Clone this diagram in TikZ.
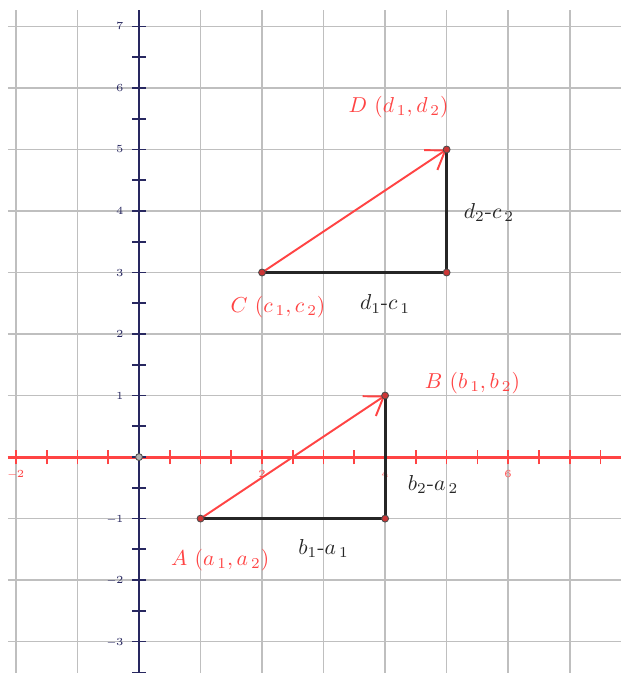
\documentclass[tikz,border=0pt]{standalone}
\usepackage{tikz}
\usetikzlibrary{arrows.meta,positioning}
\definecolor{ejerojo}{RGB}{255,68,68}
\definecolor{ejeazul}{RGB}{40,40,96}

\begin{document}
\begin{tikzpicture}[
			x=1cm, y=1cm,
			rejilla/.style={draw=gray!50, line width=0.8pt},
			vector/.style={draw=ejerojo, line width=0.9pt, -{Straight Barb[length=8pt,width=11pt]}},
			cateto/.style={draw=black!85, line width=1.4pt},
			punto/.style={circle, draw=black!70, fill=ejerojo!80!black, line width=0.4pt, inner sep=0pt, minimum size=3.2pt},
			etiq/.style={text=ejerojo},
			resta/.style={text=black!85},
			marcax/.style={font=\sffamily\tiny, text=ejerojo},
			marcay/.style={font=\sffamily\tiny, text=ejeazul, anchor=east}
			]
			\useasboundingbox (-2.26,-3.51) rectangle (7.84,7.43);
			% Rejilla
			\draw[rejilla] (-2.13,-3.51) grid (7.84,7.27);
			
			% Ejes
			\draw[ejerojo, line width=1.4pt] (-2.13,0) -- (7.84,0);
			\foreach \t in {-2,-1.5,...,7.5}
				\draw[ejerojo, line width=0.8pt] (\t,-0.12) -- (\t,0.12);
			\draw[ejeazul, line width=1pt] (0,-3.51) -- (0,7.27);
			\foreach \t in {-3.5,-3,...,7}
				\draw[ejeazul, line width=0.8pt] (-0.11,\t) -- (0.11,\t);
			\foreach \t in {-2,2,4,6}
				\node[marcax] (mx\t) at (\t,-0.27) {\ifnum\t<0 \textminus\fi\pgfmathparse{abs(\t)}\pgfmathprintnumber{\pgfmathresult}};
			\foreach \t in {-3,-2,-1,1,2,3,4,5,6,7}
				\node[marcay] (my\t) at (-0.13,\t) {\ifnum\t<0 \textminus\fi\pgfmathparse{abs(\t)}\pgfmathprintnumber{\pgfmathresult}};
			\node[punto, fill=gray!60] (O) at (0,0) {};
			
			% Puntos
			\coordinate (A) at (1,-1);
			\coordinate (B) at (4,1);
			\coordinate (C) at (2,3);
			\coordinate (D) at (5,5);
			\coordinate (AB) at (4,-1);
			\coordinate (CD) at (5,3);
			
			% Catetos y vectores
			\draw[cateto] (A) -- (AB) -- (B);
			\draw[cateto] (C) -- (CD) -- (D);
			\draw[vector] (A) -- (B);
			\draw[vector] (C) -- (D);
			\foreach \p in {A,B,C,D,AB,CD}
				\node[punto] (p\p) at (\p) {};
			
			% Etiquetas
			\node[etiq] (lA) at (1.32,-1.67) {$A\ (a_{\,1},a_{\,2})$};
			\node[etiq] (lB) at (5.42,1.2) {$B\ (b_{\,1},b_{\,2})$};
			\node[etiq] (lC) at (2.26,2.44) {$C\ (c_{\,1},c_{\,2})$};
			\node[etiq] (lD) at (4.22,5.69) {$D\ (d_{\,1},d_{\,2})$};
			\node[resta] (rb1) at (3.0,-1.48) {$b_{1}$-$a_{\,1}$};
			\node[resta] (rb2) at (4.78,-0.44) {$b_{2}$-$a_{\,2}$};
			\node[resta] (rd1) at (4.0,2.49) {$d_{1}$-$c_{\,1}$};
			\node[resta] (rd2) at (5.69,3.98) {$d_{2}$-$c_{\,2}$};
		\end{tikzpicture}
\end{document}
